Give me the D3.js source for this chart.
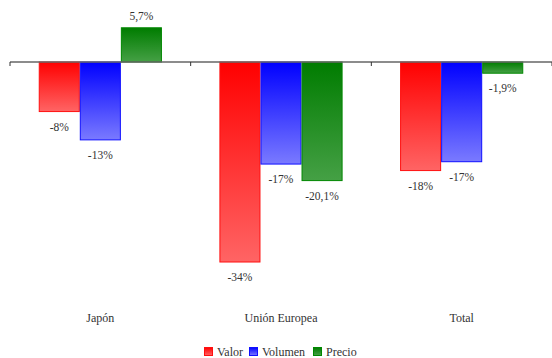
<!DOCTYPE html>
<html><head><meta charset="utf-8">
<script src="https://cdn.jsdelivr.net/npm/d3@7"></script>
<style>
html,body{margin:0;padding:0;background:#fff;}
text{font-family:"Liberation Serif","Times New Roman",serif;fill:#333;}
</style></head>
<body><svg id="c" width="552" height="358"></svg>
<script>
const categories = ["Japón", "Unión Europea", "Total"];
const seriesNames = ["Valor", "Volumen", "Precio"];
const valor = [-8.4, -33.9, -18.4];
const volumen = [-13.2, -17.3, -16.9];
const precio = [5.8, -20.1, -1.9];
const valueLabels = [["-8%", "-34%", "-18%"], ["-13%", "-17%", "-17%"], ["5,7%", "-20,1%", "-1,9%"]];
const seriesValues = [valor, volumen, precio];
const colors = [
  {top:"#ff0000", bot:"#ff6464", stroke:"#ff1010"},
  {top:"#0000ff", bot:"#7a7aff", stroke:"#1010ff"},
  {top:"#007c00", bot:"#45a045", stroke:"#008800"}
];

const svg = d3.select("#c");
const x0 = d3.scaleBand().domain(categories).range([10, 552]).paddingInner(0).paddingOuter(0);
const x1 = d3.scaleBand().domain(seriesNames).range([0, x0.bandwidth()]).paddingInner(0).paddingOuter(0.7);
const y = d3.scaleLinear().domain([-40, 10]).range([298, 3]);

const defs = svg.append("defs");
colors.forEach((c, i) => {
  const g = defs.append("linearGradient").attr("id", "g" + i).attr("x1", 0).attr("y1", 0).attr("x2", 0).attr("y2", 1);
  g.append("stop").attr("offset", "0%").attr("stop-color", c.top);
  g.append("stop").attr("offset", "100%").attr("stop-color", c.bot);
});

// bars
seriesNames.forEach((s, si) => {
  categories.forEach((cat, ci) => {
    const v = seriesValues[si][ci];
    const bx = x0(cat) + x1(s);
    const y0 = y(Math.max(0, v)), y1 = y(Math.min(0, v));
    svg.append("rect").attr("x", bx + 0.5).attr("y", y0).attr("width", x1.bandwidth() - 1).attr("height", y1 - y0)
      .attr("fill", `url(#g${si})`).attr("stroke", colors[si].stroke).attr("stroke-width", 1);
    const ly = v >= 0 ? y(v) - 8 : y(v) + 19;
    svg.append("text").attr("x", bx + x1.bandwidth() / 2).attr("y", ly).attr("text-anchor", "middle")
      .attr("font-size", 11.5).text(valueLabels[si][ci]);
  });
});

// axis at zero
const ag = svg.append("g").attr("transform", `translate(0,${y(0)})`);
ag.append("line").attr("x1", 10).attr("x2", 552).attr("y1", 0).attr("y2", 0).attr("stroke", "#666").attr("stroke-width", 1.3);
const tickXs = categories.map(c => x0(c)).concat([x0.range()[1]]);
ag.selectAll("line.t").data(tickXs).enter().append("line").attr("class", "t")
  .attr("x1", d => d).attr("x2", d => d).attr("y1", 0).attr("y2", 4).attr("stroke", "#333").attr("stroke-width", 1);

// category labels
svg.selectAll("text.cat").data(categories).enter().append("text").attr("class", "cat")
  .attr("x", d => x0(d) + x0.bandwidth() / 2).attr("y", 322).attr("text-anchor", "middle")
  .attr("font-size", 12).text(d => d);

// legend
const legX = [204, 249, 313];
seriesNames.forEach((s, i) => {
  svg.append("rect").attr("x", legX[i] + 0.5).attr("y", 347.5).attr("width", 8).attr("height", 8)
    .attr("fill", `url(#g${i})`).attr("stroke", colors[i].stroke).attr("stroke-width", 1);
  svg.append("text").attr("x", legX[i] + 13).attr("y", 355.5).attr("font-size", 12).text(s);
});
</script></body></html>
